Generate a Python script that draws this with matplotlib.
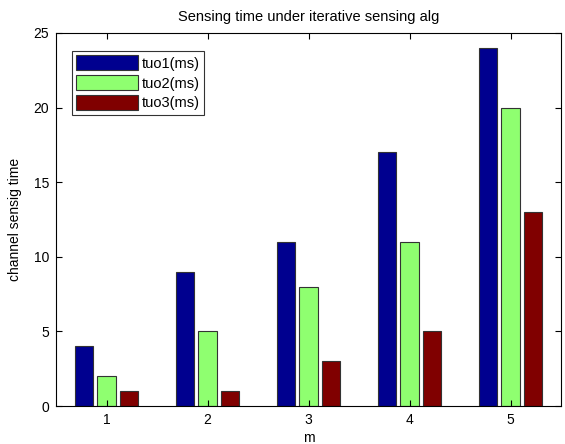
import numpy as np
import matplotlib.pyplot as plt

plt.rcParams['font.family'] = ['Liberation Sans', 'DejaVu Sans']

m = np.array([1, 2, 3, 4, 5])
tuo1 = [4, 9, 11, 17, 24]
tuo2 = [2, 5, 8, 11, 20]
tuo3 = [1, 1, 3, 5, 13]
labels = ['tuo1(ms)', 'tuo2(ms)', 'tuo3(ms)']
colors = ['#00008F', '#8FFF70', '#800000']

fig = plt.figure(figsize=(5.65, 4.44), dpi=100)
ax = fig.add_axes([56 / 565, 38 / 444, 505 / 565, 373 / 444])

w = 0.18
for k, (vals, lab, c) in enumerate(zip([tuo1, tuo2, tuo3], labels, colors)):
    ax.bar(m + (k - 1) * 0.22, vals, width=w, color=c, edgecolor='#333333',
           linewidth=0.8, label=lab)

ax.set_xlim(0.5, 5.5)
ax.set_ylim(0, 25)
ax.set_xticks(m)
ax.set_yticks(np.arange(0, 26, 5))
ax.tick_params(direction='in', top=True, right=True, labelsize=10, length=4,
               pad=5)
ax.set_title('Sensing time under iterative sensing alg', fontsize=10.5, pad=9)
ax.set_xlabel('m', fontsize=10, labelpad=3)
ax.set_ylabel('channel sensig time', fontsize=10, labelpad=8)

leg = ax.legend(loc='upper left', bbox_to_anchor=(16 / 505, 1 - 18 / 373),
                borderaxespad=0, fontsize=10.5, fancybox=False,
                edgecolor='black', handlelength=4.2, handleheight=1.2,
                handletextpad=0.3, labelspacing=0.3, borderpad=0.3)
leg.get_frame().set_linewidth(0.8)

fig.savefig('out.png', dpi=100)
